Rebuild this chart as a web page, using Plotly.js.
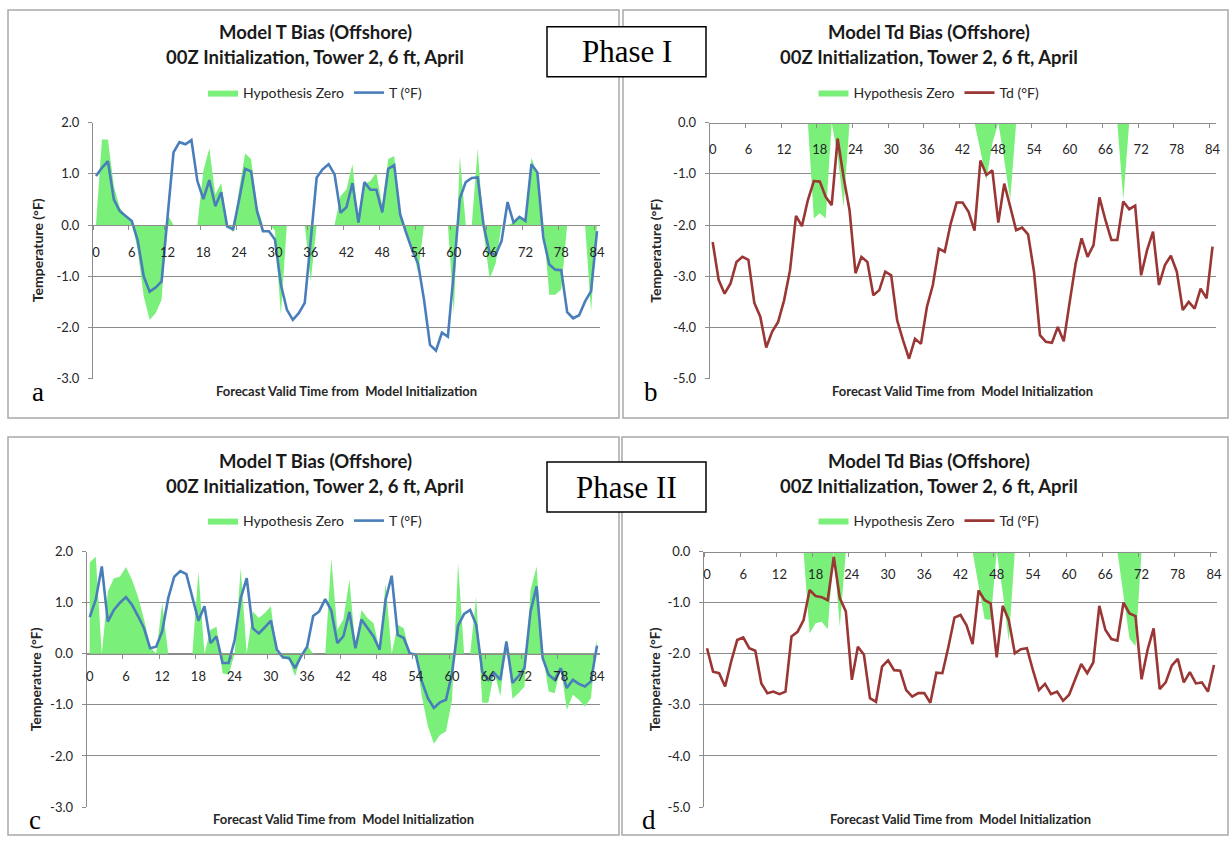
<!DOCTYPE html>
<html>
<head>
<meta charset="utf-8">
<script src="https://cdn.plot.ly/plotly-3.0.1.min.js"></script>
<style>
html,body{margin:0;padding:0;background:#fff;}
#chart{width:1231px;height:842px;}
</style>
</head>
<body>
<div id="chart"></div>
<script>
// ---------------- DATA ----------------
const hours = [0,1,2,3,4,5,6,7,8,9,10,11,12,13,14,15,16,17,18,19,20,21,22,23,24,25,26,27,28,29,
  30,31,32,33,34,35,36,37,38,39,40,41,42,43,44,45,46,47,48,49,50,51,52,53,54,55,56,57,58,59,
  60,61,62,63,64,65,66,67,68,69,70,71,72,73,74,75,76,77,78,79,80,81,82,83,84];

const xTickLabels = ['0','6','12','18','24','30','36','42','48','54','60','66','72','78','84'];
const tTickVals = [2,1,0,-1,-2,-3];
const tTickText = ['2.0','1.0','0.0','-1.0','-2.0','-3.0'];
const tdTickVals = [0,-1,-2,-3,-4,-5];
const tdTickText = ['0.0','-1.0','-2.0','-3.0','-4.0','-5.0'];

// Phase I - T bias
const tPhase1 = [0.96,1.12,1.25,0.5,0.27,0.18,0.08,-0.3,-1.0,-1.3,
  -1.22,-1.1,0.1,1.42,1.62,1.58,1.66,0.86,0.51,0.88,
  0.37,0.64,-0.03,-0.08,0.5,1.1,1.05,0.27,-0.12,-0.12,
  -0.28,-1.16,-1.65,-1.85,-1.72,-1.52,-0.3,0.93,1.09,1.19,
  0.99,0.24,0.35,0.82,0.05,0.84,0.69,0.69,0.25,1.1,
  1.17,0.21,-0.15,-0.48,-0.75,-1.46,-2.34,-2.45,-2.1,-2.18,
  -0.9,0.52,0.84,0.92,0.93,-0.02,-0.54,-0.58,-0.31,0.45,
  0.05,0.16,0.08,1.19,1.03,-0.25,-0.77,-0.87,-0.88,-1.7,
  -1.82,-1.76,-1.49,-1.29,-0.12];
const hypoTPhase1 = [0,1.67,1.67,0.76,0.34,0.19,0.08,-0.5,-1.39,-1.85,
  -1.72,-1.46,0.2,0,0,0,0,0,1.06,1.5,
  0.6,0.82,-0.02,-0.14,0.7,1.4,1.29,0.37,0,0,
  -0.1,-1.75,0,0,0,0,-1.1,0,0,0,
  0,0.57,0.7,1.19,0.05,0.8,0.86,1.03,0.37,1.29,
  1.35,0.18,-0.08,-0.41,-0.93,0,0,0,0,0,
  -1.72,1.35,0,0,1.5,-0.15,-1.05,-0.75,0,0,
  0.05,0.18,0.12,1.32,0.96,0,-1.36,-1.36,-1.26,0,
  0,0,0,-1.69,0];

// Phase I - Td bias
const tdPhase1 = [-2.33,-3.07,-3.34,-3.14,-2.72,-2.62,-2.68,-3.52,-3.79,-4.39,
  -4.08,-3.89,-3.47,-2.88,-1.82,-2.02,-1.51,-1.14,-1.15,-1.45,
  -1.61,-0.31,-1.06,-1.71,-2.94,-2.62,-2.72,-3.37,-3.27,-2.91,
  -2.98,-3.86,-4.25,-4.61,-4.22,-4.32,-3.6,-3.17,-2.46,-2.52,
  -1.97,-1.56,-1.56,-1.74,-2.11,-0.74,-1.02,-0.93,-1.95,-1.19,
  -1.64,-2.1,-2.05,-2.18,-2.91,-4.15,-4.28,-4.3,-3.99,-4.27,
  -3.5,-2.75,-2.26,-2.62,-2.39,-1.46,-1.9,-2.29,-2.29,-1.54,
  -1.69,-1.62,-2.98,-2.49,-2.13,-3.17,-2.78,-2.6,-2.91,-3.66,
  -3.5,-3.63,-3.24,-3.43,-2.42];
const hypoTdPhase1 = [0,0,0,0,0,0,0,0,0,0,
  0,0,0,0,0,0,0,-1.87,-1.77,-1.87,
  0,-0.65,-1.64,0,0,0,0,0,0,0,
  0,0,0,0,0,0,0,0,0,0,
  0,0,0,0,0,-0.55,-1.12,-0.4,0,-0.73,
  -1.51,0,0,0,0,0,0,0,0,0,
  0,0,0,0,0,0,0,0,0,-1.51,
  0,0,0,0,0,0,0,0,0,0,
  0,0,0,0,0];

// Phase II - T bias
const tPhase2 = [0.72,1.06,1.71,0.63,0.86,1.0,1.11,0.96,0.74,0.5,
  0.11,0.14,0.44,1.09,1.51,1.62,1.56,1.12,0.65,0.93,
  0.21,0.34,-0.18,-0.18,0.27,1.09,1.48,0.5,0.4,0.52,
  0.65,0.08,-0.07,-0.08,-0.28,-0.05,0.14,0.74,0.83,1.07,
  0.85,0.21,0.34,0.82,0.11,0.67,0.5,0.34,0.08,1.06,
  1.53,0.37,0.31,0.01,-0.02,-0.54,-0.87,-1.06,-0.95,-0.9,
  -0.38,0.55,0.78,0.86,0.57,-0.35,-0.51,-0.38,-0.51,0.24,
  -0.57,-0.44,-0.28,0.83,1.32,-0.08,-0.41,-0.51,-0.28,-0.67,
  -0.51,-0.59,-0.64,-0.54,0.16];
const hypoTPhase2 = [1.79,1.9,0,1.22,1.48,1.51,1.7,1.45,1.12,0.67,
  0.14,0,0.99,0,0,0,0,0,1.61,0,
  0.47,0.53,-0.38,-0.41,0,1.68,0,0.83,0.7,0.8,
  0.93,0,-0.08,-0.12,-0.44,-0.05,0.17,0,0,0,
  1.87,0.47,0.67,1.45,0.14,0.86,0.7,0.6,0.08,1.38,
  0,0.57,0.5,0,-0.02,-0.83,-1.42,-1.76,-1.59,-1.52,
  -0.9,1.78,0,0,1.12,-0.96,-0.96,-0.35,-0.83,0.3,
  -0.88,-0.77,-0.64,1.25,1.71,0,-0.74,-0.77,-0.25,-1.1,
  -0.8,-0.9,-1.03,-0.87,0.31];

// Phase II - Td bias
const tdPhase2 = [-1.89,-2.35,-2.38,-2.64,-2.15,-1.73,-1.68,-1.89,-1.94,-2.58,
  -2.77,-2.74,-2.79,-2.74,-1.66,-1.57,-1.34,-0.75,-0.87,-0.89,
  -0.95,-0.1,-0.91,-1.17,-2.51,-1.86,-2.02,-2.87,-2.94,-2.25,
  -2.13,-2.32,-2.33,-2.71,-2.84,-2.77,-2.77,-2.96,-2.37,-2.38,
  -1.86,-1.29,-1.24,-1.44,-1.81,-0.76,-0.95,-1.01,-2.07,-1.06,
  -1.34,-1.99,-1.91,-1.89,-2.32,-2.71,-2.59,-2.79,-2.74,-2.92,
  -2.8,-2.51,-2.2,-2.38,-2.17,-1.06,-1.53,-1.71,-1.74,-1.0,
  -1.21,-1.26,-2.5,-1.92,-1.5,-2.69,-2.56,-2.23,-2.1,-2.56,
  -2.36,-2.58,-2.56,-2.74,-2.22];
const hypoTdPhase2 = [0,0,0,0,0,0,0,0,0,0,
  0,0,0,0,0,0,0,-1.6,-1.4,-1.37,
  -1.52,0,-1.47,0,0,0,0,0,0,0,
  0,0,0,0,0,0,0,0,0,0,
  0,0,0,0,0,-0.66,-1.32,-1.34,0,-0.8,
  -1.76,0,0,0,0,0,0,0,0,0,
  0,0,0,0,0,0,0,0,0,-0.85,
  -1.7,-1.85,0,0,0,0,0,0,0,0,
  0,0,0,0,0];

// ---------------- STYLE / LAYOUT ----------------
const W = 1231, H = 842;
const fx = p => p / W;
const fy = p => 1 - p / H;

const GREEN = 'rgb(122,240,122)';
const BLUE = '#4A7EBB';
const RED = '#9A3634';
const GRID = '#8c8c8c';
const TXT = '#262626';
const FONT = 'Lato, "Noto Sans", sans-serif';
const SERIF = '"Liberation Serif", "DejaVu Serif", serif';

const panels = [
  {sfx:'',  leg:'legend',  x:[93,600],     y:[122.7,378.7], yr:[-3,2], ticks:[tTickVals,tTickText],
   hypo:hypoTPhase1, vals:tPhase1, color:BLUE, name:'T (°F)', standoff:11,
   title1:'Model T Bias (Offshore)', tx:315, ty1:32.5, ty2:56.5, legY:93, xtY:391, ytX:37.5, letter:'a', lx:38, ly:392},
  {sfx:'2', leg:'legend2', x:[709.7,1215.5], y:[122.7,378.7], yr:[-5,0], ticks:[tdTickVals,tdTickText],
   hypo:hypoTdPhase1, vals:tdPhase1, color:RED, name:'Td (°F)', standoff:11,
   title1:'Model Td Bias (Offshore)', tx:929, ty1:32.5, ty2:56.5, legY:93, xtY:391, ytX:656, letter:'b', lx:651, ly:392},
  {sfx:'3', leg:'legend3', x:[86.7,600],   y:[551.7,807],   yr:[-3,2], ticks:[tTickVals,tTickText],
   hypo:hypoTPhase2, vals:tPhase2, color:BLUE, name:'T (°F)', standoff:7,
   title1:'Model T Bias (Offshore)', tx:315, ty1:461, ty2:485.5, legY:521, xtY:819, ytX:35, letter:'c', lx:35, ly:820},
  {sfx:'4', leg:'legend4', x:[704,1217],   y:[551.7,807],   yr:[-5,0], ticks:[tdTickVals,tdTickText],
   hypo:hypoTdPhase2, vals:tdPhase2, color:RED, name:'Td (°F)', standoff:7,
   title1:'Model Td Bias (Offshore)', tx:929, ty1:461, ty2:485.5, legY:521, xtY:819, ytX:654, letter:'d', lx:649, ly:820}
];

const data = [];
const layout = {
  width: W, height: H,
  margin: {l:0, r:0, t:0, b:0},
  paper_bgcolor: '#ffffff',
  plot_bgcolor: '#ffffff',
  showlegend: true,
  hovermode: false,
  font: {family: FONT, color: TXT},
  annotations: [],
  shapes: []
};

// panel frames
const frames = [[8,619,10,418],[623,1228,10,418],[8,619,437,835],[622,1228,437,835]];
frames.forEach(f => layout.shapes.push({
  type:'rect', xref:'paper', yref:'paper',
  x0:fx(f[0]), x1:fx(f[1]), y0:fy(f[3]), y1:fy(f[2]),
  line:{color:'#a9a9a9', width:1.5}, fillcolor:'rgba(0,0,0,0)', layer:'below'
}));

panels.forEach(p => {
  const xa = 'x' + p.sfx, ya = 'y' + p.sfx;
  const xDom = [fx(p.x[0]), fx(p.x[1])];
  const yDom = [fy(p.y[1]), fy(p.y[0])];
  const zeroPos = yDom[0] + (0 - p.yr[0]) / (p.yr[1] - p.yr[0]) * (yDom[1] - yDom[0]);

  data.push({
    type:'scatter', mode:'lines', x:hours, y:p.hypo,
    xaxis:xa, yaxis:ya, legend:p.leg,
    name:'Hypothesis Zero', fill:'tozeroy', fillcolor:GREEN,
    line:{width:0, color:GREEN}, hoverinfo:'skip'
  });
  data.push({
    type:'scatter', mode:'lines', x:hours, y:p.vals,
    xaxis:xa, yaxis:ya, legend:p.leg,
    name:p.name, line:{color:p.color, width:2.6}, hoverinfo:'skip'
  });

  layout['xaxis' + p.sfx] = {
    domain:xDom, range:[-0.5, 84.5], anchor:'free', position:zeroPos,
    showgrid:false, zeroline:false, showline:true, linecolor:GRID, linewidth:1,
    ticks:'outside', ticklen:4, tickcolor:GRID, tickwidth:1,
    tickmode:'array', tickvals:xTickLabels.map(t => Number(t) - 0.5), ticktext:xTickLabels,
    ticklabelshift:3, ticklabelstandoff:p.standoff,
    tickfont:{family:FONT, size:13, color:TXT}, fixedrange:true
  };
  layout['yaxis' + p.sfx] = {
    domain:yDom, range:p.yr, anchor:xa,
    showgrid:true, gridcolor:GRID, gridwidth:1, zeroline:false,
    showline:true, linecolor:GRID, linewidth:1,
    ticks:'outside', ticklen:4, tickcolor:GRID,
    tickmode:'array', tickvals:p.ticks[0], ticktext:p.ticks[1],
    ticklabelstandoff:6,
    tickfont:{family:FONT, size:13, color:TXT}, fixedrange:true
  };

  layout[p.leg] = {
    x:fx(p.tx), y:fy(p.legY), xanchor:'center', yanchor:'middle',
    orientation:'h', bgcolor:'rgba(0,0,0,0)', borderwidth:0,
    font:{family:FONT, size:14, color:TXT}, itemwidth:30, itemclick:false, itemdoubleclick:false
  };

  const ann = layout.annotations;
  ann.push({xref:'paper', yref:'paper', x:fx(p.tx), y:fy(p.ty1), xanchor:'center', yanchor:'middle',
    text:p.title1, showarrow:false, font:{family:FONT, size:18.5, color:'#1a1a1a', weight:700}});
  ann.push({xref:'paper', yref:'paper', x:fx(p.tx), y:fy(p.ty2), xanchor:'center', yanchor:'middle',
    text:'00Z Initialization, Tower 2, 6 ft, April', showarrow:false, font:{family:FONT, size:18.5, color:'#1a1a1a', weight:700}});
  ann.push({xref:'paper', yref:'paper', x:(xDom[0] + xDom[1]) / 2, y:fy(p.xtY), xanchor:'center', yanchor:'middle',
    text:'Forecast Valid Time from  Model Initialization', showarrow:false, font:{family:FONT, size:13, color:TXT, weight:700}});
  ann.push({xref:'paper', yref:'paper', x:fx(p.ytX), y:(yDom[0] + yDom[1]) / 2, xanchor:'center', yanchor:'middle',
    text:'Temperature (°F)', textangle:-90, showarrow:false, font:{family:FONT, size:14, color:TXT, weight:700}});
  ann.push({xref:'paper', yref:'paper', x:fx(p.lx), y:fy(p.ly), xanchor:'center', yanchor:'middle',
    text:p.letter, showarrow:false, font:{family:SERIF, size:27, color:'#000'}});
});

// Phase boxes
const phases = [{t:'Phase I', x:[547,706], y:[26.7,76.7]}, {t:'Phase II', x:[547,706], y:[462,512]}];
phases.forEach(ph => {
  layout.shapes.push({type:'rect', xref:'paper', yref:'paper',
    x0:fx(ph.x[0]), x1:fx(ph.x[1]), y0:fy(ph.y[1]), y1:fy(ph.y[0]),
    line:{color:'#000', width:1.5}, fillcolor:'#ffffff', layer:'above'});
  layout.annotations.push({xref:'paper', yref:'paper', x:fx((ph.x[0] + ph.x[1]) / 2), y:fy((ph.y[0] + ph.y[1]) / 2),
    xanchor:'center', yanchor:'middle', text:ph.t, showarrow:false, font:{family:SERIF, size:31, color:'#000'}});
});

Plotly.newPlot('chart', data, layout, {staticPlot:true, displayModeBar:false});
</script>
</body>
</html>
